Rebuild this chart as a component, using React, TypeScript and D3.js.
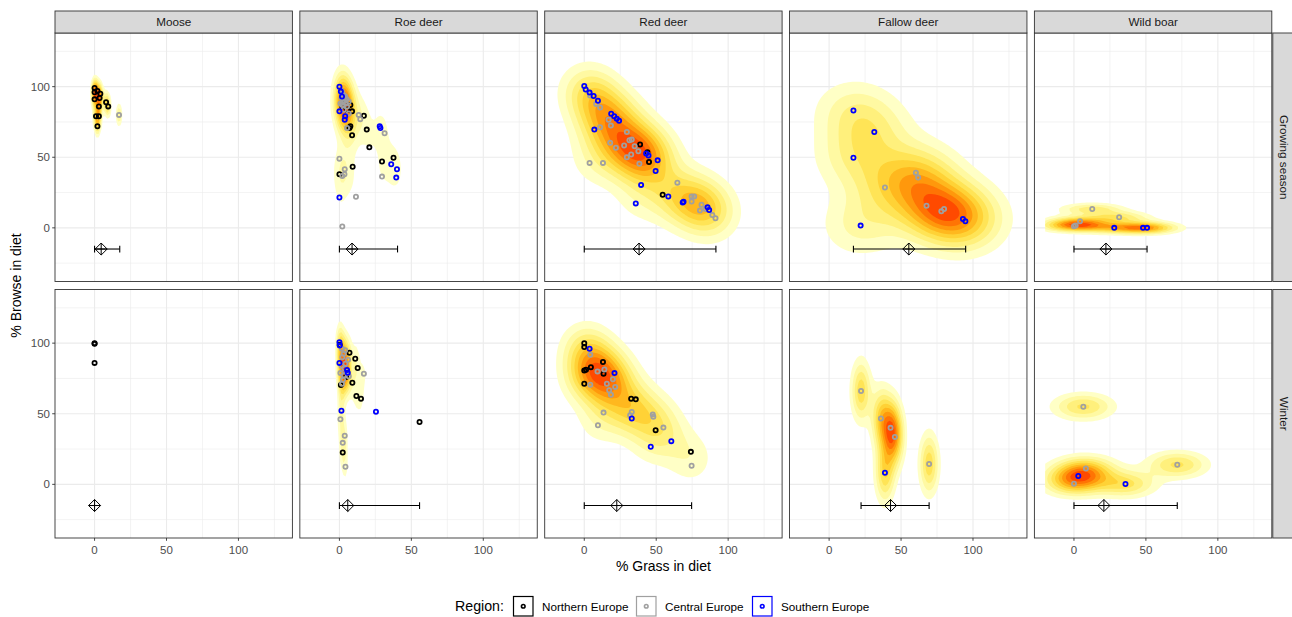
import React, { useEffect, useRef } from 'react';
import * as d3 from 'd3';

const species = ['Moose', 'Roe deer', 'Red deer', 'Fallow deer', 'Wild boar'];
const seasons = ['Growing season', 'Winter'];
const regions = ['Northern Europe', 'Central Europe', 'Southern Europe'];
const regionColors = ['#000000', '#A0A0A0', '#0000FF'];

const xTicks = [0, 50, 100];
const yTicks = [0, 50, 100];

// [% grass, % browse] per study, by panel and region
const mooseGrowingNorth = [[0, 99], [2, 97], [4, 95], [0, 96], [0, 91], [3.5, 92], [8, 89], [9.5, 86], [3, 86], [1, 79], [3, 79], [2, 72]];
const mooseGrowingCentral = [[17, 80]];
const mooseGrowingSouth: number[][] = [];

const roeGrowingNorth = [[2, 86], [7.6, 87], [8.8, 82.5], [5.3, 83.6], [17, 79.4], [7.6, 72], [7, 70.7], [19, 69.6], [8.8, 65.6], [20.8, 57], [37.6, 49.6], [29.6, 47], [9.2, 43.3], [0, 38], [4, 88]];
const roeGrowingCentral = [[2, 95], [4, 93], [3, 90.6], [6.5, 89.5], [0.7, 88], [5.3, 86], [3, 83.6], [6.5, 81], [5.3, 70.7], [13.4, 80], [14.5, 77], [31.4, 67], [0, 49], [3.7, 41.5], [2, 36.8], [3.5, 38], [11.5, 22], [2, 1], [29.6, 36.3], [4.5, 88], [1.5, 92], [2.5, 89], [3, 94], [5, 91], [2, 87], [1.5, 97]];
const roeGrowingSouth = [[0, 100], [1, 96.5], [1.8, 93], [0, 82.5], [4, 79], [3.7, 76.6], [28, 72], [28.5, 70.7], [36, 45], [40, 41.5], [39.5, 35.6], [0, 21.5]];

const redGrowingNorth = [[38.8, 59], [43.9, 53.6], [45, 46.6], [54.5, 23.4]];
const redGrowingCentral = [[4, 93.7], [8.3, 87.8], [11, 85.2], [16.9, 76.6], [18.5, 72.4], [11, 71.2], [29.6, 67.9], [3.7, 46], [13, 46], [18, 60.2], [22, 56.7], [27.7, 58.3], [31.4, 62], [33, 62.5], [35, 57.8], [37.6, 54.3], [29.6, 50], [32.6, 52], [38.3, 45.4], [44.6, 51.5], [64.7, 32], [74.6, 22.2], [76.4, 22.2], [74.6, 18.7], [81.5, 16.4], [80.4, 12.2], [84.3, 13.3], [89, 9.1], [91.2, 6.8]];
const redGrowingSouth = [[0, 100.5], [1, 98], [3.7, 95.8], [6.5, 93.4], [9.5, 90], [18.7, 80.8], [20.8, 79], [22.6, 77.3], [24.2, 75.9], [7, 69.6], [43, 52.7], [44.6, 51.3], [51, 47.8], [49.6, 40.3], [39.5, 30.4], [35.8, 17.3], [58.4, 22.2], [68.4, 18], [69, 18.5], [85.7, 14.5], [86.8, 12.6]];

const fallowGrowingNorth: number[][] = [];
const fallowGrowingCentral = [[38.8, 28.6], [60.3, 39.1], [61.9, 35.6], [67.7, 15.7], [78, 11.7], [79.9, 13.3]];
const fallowGrowingSouth = [[16.9, 83.1], [31.4, 67.9], [16.9, 49.6], [21.9, 1.6], [93, 6.3], [94.7, 4.7]];

const boarGrowingNorth: number[][] = [];
const boarGrowingCentral = [[0, 1.2], [1.2, 1.6], [4.2, 4.7], [12.7, 13.3], [31.4, 7.5]];
const boarGrowingSouth = [[28, 0], [48, 0], [50.8, 0]];

const mooseWinterNorth = [[0, 100], [0, 99.5], [0, 86]];
const mooseWinterCentral: number[][] = [];
const mooseWinterSouth: number[][] = [];

const roeWinterNorth = [[0.2, 98.8], [7, 93.2], [11, 89], [12.7, 82.4], [4.6, 76], [9, 72], [1, 70.4], [11.8, 62.6], [15, 60.7], [55.7, 44.2], [2.3, 22.6]];
const roeWinterCentral = [[1.8, 96], [3, 92.5], [6, 88.2], [4.2, 85.4], [17, 78.4], [0.7, 78.8], [3, 77.2], [6.5, 76.5], [1.8, 71.3], [0.7, 46.1], [3.7, 34.4], [2.3, 29.4], [4.2, 12.5], [2, 90], [3.5, 82], [1.5, 84], [5, 80], [2.5, 74], [4, 95]];
const roeWinterSouth = [[0, 100.7], [0.2, 98.4], [0, 86], [5.3, 81], [5.8, 79], [1.4, 52.2], [25.4, 51.5]];

const redWinterNorth = [[0, 100], [0, 97.2], [13, 86.6], [4.6, 83], [1.2, 81.2], [0, 80.7], [13.4, 78.4], [0, 71.3], [32.6, 60.7], [35.8, 60.2], [49.6, 38.4], [74.1, 23]];
const redWinterCentral = [[4.2, 91.8], [9.2, 80], [14, 81.4], [19.9, 74.4], [15.7, 71.3], [21.5, 69], [17.3, 66.6], [18.5, 63.5], [4.2, 70.6], [13.4, 50.8], [9.5, 41.9], [31.9, 48.9], [33, 51.3], [47.6, 49.4], [48, 47.8], [55, 40.2], [74.6, 13.2]];
const redWinterSouth = [[3.7, 96], [21, 78.8], [33, 46.6], [46.2, 26.6], [60.5, 30.6]];

const fallowWinterNorth: number[][] = [];
const fallowWinterCentral = [[22.2, 66.1], [36, 46.6], [42.7, 40], [45.7, 33.6], [69.5, 14.4]];
const fallowWinterSouth = [[38.8, 8.2]];

const boarWinterNorth: number[][] = [];
const boarWinterCentral = [[6.5, 55], [8.3, 11.3], [0, 0.5], [71.8, 13.9]];
const boarWinterSouth = [[3, 5.9], [35.8, 0.2]];

// mean and range of % grass, shown below the points
const grassMeanGrowing = [4.6, 8.8, 38.1, 55.4, 22.2];
const grassMinGrowing = [0, 0, 0, 16.9, 0];
const grassMaxGrowing = [17.5, 40.4, 91.5, 94.9, 50.8];
const grassMeanWinter = [0, 5.8, 22.6, 42.7, 20.8];
const grassMinWinter = [0, 0, 0, 22.2, 0];
const grassMaxWinter = [0, 55.7, 74.6, 69.5, 71.8];
const summaryY = -15;

// filled density bands for ndensity 0.1 .. 1
const densityBreaks = [0.1, 0.2, 0.3, 0.4, 0.5, 0.6, 0.7, 0.8, 0.9];
const densityColors = ['#FFFFC6', '#FFF9A2', '#FFF07C', '#FFE456', '#FFD236', '#FFB81E', '#FF980C', '#FF7404', '#FF4A00'];

const pointsTable = [
  [
    [mooseGrowingNorth, mooseGrowingCentral, mooseGrowingSouth],
    [roeGrowingNorth, roeGrowingCentral, roeGrowingSouth],
    [redGrowingNorth, redGrowingCentral, redGrowingSouth],
    [fallowGrowingNorth, fallowGrowingCentral, fallowGrowingSouth],
    [boarGrowingNorth, boarGrowingCentral, boarGrowingSouth],
  ],
  [
    [mooseWinterNorth, mooseWinterCentral, mooseWinterSouth],
    [roeWinterNorth, roeWinterCentral, roeWinterSouth],
    [redWinterNorth, redWinterCentral, redWinterSouth],
    [fallowWinterNorth, fallowWinterCentral, fallowWinterSouth],
    [boarWinterNorth, boarWinterCentral, boarWinterSouth],
  ],
];
const summaryTable = [
  [grassMeanGrowing, grassMinGrowing, grassMaxGrowing],
  [grassMeanWinter, grassMinWinter, grassMaxWinter],
];

const W = 1292;
const H = 617;
const FONT = '"Liberation Sans", Arial, Helvetica, sans-serif';

// MASS::bandwidth.nrd
const bandwidthNrd = (v: number[]) => {
  const s = [...v].sort((a, b) => a - b);
  const iqr = (d3.quantile(s, 0.75)! - d3.quantile(s, 0.25)!) / 1.34;
  return 4 * 1.06 * Math.min(d3.deviation(s) || 0, iqr) * Math.pow(s.length, -0.2);
};

// kde2d over the fixed limits, scaled to max 1
const GRID = 100;
const LIMX = [-20, 130];
const LIMY = [-30, 130];
const density = (pts: number[][]) => {
  if (pts.length < 2) return null;
  const hx = bandwidthNrd(pts.map(p => p[0])) / 4;
  const hy = bandwidthNrd(pts.map(p => p[1])) / 4;
  if (!(hx > 0) || !(hy > 0)) return null;
  const vals = new Array(GRID * GRID).fill(0);
  for (let j = 0; j < GRID; j++) {
    const gy = LIMY[0] + (j * (LIMY[1] - LIMY[0])) / (GRID - 1);
    for (let i = 0; i < GRID; i++) {
      const gx = LIMX[0] + (i * (LIMX[1] - LIMX[0])) / (GRID - 1);
      let z = 0;
      pts.forEach(p => {
        const a = (gx - p[0]) / hx;
        const b = (gy - p[1]) / hy;
        z += Math.exp(-0.5 * (a * a + b * b));
      });
      vals[j * GRID + i] = z;
    }
  }
  const mx = d3.max(vals)!;
  return vals.map(v => v / mx);
};

const App = () => {
  const svgRef = useRef<SVGSVGElement>(null);

  useEffect(() => {
    document.body.style.margin = '0';
    const svg = d3.select(svgRef.current);
    svg.selectAll('*').remove();

    const left0 = 55;
    const panelW = 237.4;
    const gapX = 7.45;
    const rowTops = [33, 289.5];
    const panelH = 248.5;

    const defs = svg.append('defs');

    seasons.forEach((season, r) => {
      species.forEach((sp, c) => {
        const x0 = left0 + c * (panelW + gapX);
        const y0 = rowTops[r];
        const x = d3.scaleLinear().domain([-27.5, 137.5]).range([x0, x0 + panelW]);
        const y = d3.scaleLinear().domain([-38, 138]).range([y0 + panelH, y0]);
        const g = svg.append('g');
        const clipId = `clip-${r}-${c}`;
        defs.append('clipPath').attr('id', clipId)
          .append('rect').attr('x', x0).attr('y', y0).attr('width', panelW).attr('height', panelH);

        g.append('rect').attr('x', x0).attr('y', y0).attr('width', panelW).attr('height', panelH).attr('fill', '#fff');

        // grid
        [-25, 25, 75, 125].forEach(v => {
          g.append('line').attr('x1', x0).attr('x2', x0 + panelW).attr('y1', y(v)).attr('y2', y(v))
            .attr('stroke', '#EBEBEB').attr('stroke-width', 0.6);
        });
        [25, 75, 125].forEach(v => {
          g.append('line').attr('y1', y0).attr('y2', y0 + panelH).attr('x1', x(v)).attr('x2', x(v))
            .attr('stroke', '#EBEBEB').attr('stroke-width', 0.6);
        });
        yTicks.forEach(v => {
          g.append('line').attr('x1', x0).attr('x2', x0 + panelW).attr('y1', y(v)).attr('y2', y(v))
            .attr('stroke', '#EBEBEB').attr('stroke-width', 1.1);
        });
        xTicks.forEach(v => {
          g.append('line').attr('y1', y0).attr('y2', y0 + panelH).attr('x1', x(v)).attr('x2', x(v))
            .attr('stroke', '#EBEBEB').attr('stroke-width', 1.1);
        });

        // density
        const all = pointsTable[r][c].flat();
        const vals = density(all);
        if (vals) {
          const toX = (cx: number) => LIMX[0] + (Math.max(0, Math.min(GRID - 1, cx - 0.5)) * (LIMX[1] - LIMX[0])) / (GRID - 1);
          const toY = (cy: number) => LIMY[0] + (Math.max(0, Math.min(GRID - 1, cy - 0.5)) * (LIMY[1] - LIMY[0])) / (GRID - 1);
          const proj = d3.geoTransform({
            point(px: number, py: number) {
              (this as any).stream.point(x(toX(px)), y(toY(py)));
            },
          });
          const path = d3.geoPath(proj);
          const contours = d3.contours().size([GRID, GRID]).thresholds(densityBreaks)(vals);
          g.append('g').attr('clip-path', `url(#${clipId})`)
            .selectAll('path').data(contours).enter().append('path')
            .attr('d', d => path(d as any) || '')
            .attr('fill', (_, i) => densityColors[i]);
        }

        // summary: range bar and mean diamond
        const [means, mins, maxs] = summaryTable[r];
        const sy = y(summaryY);
        const sg = g.append('g').attr('stroke', '#000').attr('stroke-width', 1.1).attr('fill', 'none');
        if (maxs[c] > mins[c]) {
          sg.append('line').attr('x1', x(mins[c])).attr('x2', x(maxs[c])).attr('y1', sy).attr('y2', sy);
          [mins[c], maxs[c]].forEach(v => {
            sg.append('line').attr('x1', x(v)).attr('x2', x(v)).attr('y1', sy - 3.4).attr('y2', sy + 3.4);
          });
        }
        sg.append('path')
          .attr('transform', `translate(${x(means[c])},${sy})`)
          .attr('d', 'M0,-6L6,0L0,6L-6,0Z M0,-6L0,6 M-6,0L6,0')
          .attr('stroke-width', 1);

        // points
        pointsTable[r][c].forEach((pts, k) => {
          g.append('g').selectAll('circle').data(pts).enter().append('circle')
            .attr('cx', d => x(d[0])).attr('cy', d => y(d[1])).attr('r', 2.1)
            .attr('fill', 'none').attr('stroke', regionColors[k]).attr('stroke-width', 1.8);
        });

        g.append('rect').attr('x', x0).attr('y', y0).attr('width', panelW).attr('height', panelH)
          .attr('fill', 'none').attr('stroke', '#333333').attr('stroke-width', 0.9);

        // top strips
        if (r === 0) {
          g.append('rect').attr('x', x0).attr('y', 11).attr('width', panelW).attr('height', y0 - 11)
            .attr('fill', '#D9D9D9').attr('stroke', '#333333').attr('stroke-width', 0.9);
          g.append('text').attr('x', x0 + panelW / 2).attr('y', 22).attr('dy', '0.35em')
            .attr('text-anchor', 'middle').attr('font-family', FONT).attr('font-size', 11.7)
            .attr('fill', '#1A1A1A').text(sp);
        }
        // right strips
        if (c === species.length - 1) {
          const sx = x0 + panelW + 1;
          g.append('rect').attr('x', sx).attr('y', y0).attr('width', 22).attr('height', panelH)
            .attr('fill', '#D9D9D9').attr('stroke', '#333333').attr('stroke-width', 0.9);
          g.append('text').attr('transform', `translate(${sx + 11},${y0 + panelH / 2}) rotate(90)`)
            .attr('dy', '0.35em').attr('text-anchor', 'middle').attr('font-family', FONT)
            .attr('font-size', 11.7).attr('fill', '#1A1A1A').text(season);
        }
        // y axis
        if (c === 0) {
          yTicks.forEach(v => {
            g.append('line').attr('x1', x0 - 2.8).attr('x2', x0).attr('y1', y(v)).attr('y2', y(v))
              .attr('stroke', '#333333').attr('stroke-width', 0.9);
            g.append('text').attr('x', x0 - 5).attr('y', y(v)).attr('dy', '0.35em')
              .attr('text-anchor', 'end').attr('font-family', FONT).attr('font-size', 11.5)
              .attr('fill', '#4D4D4D').text(v);
          });
        }
        // x axis
        if (r === seasons.length - 1) {
          xTicks.forEach(v => {
            g.append('line').attr('x1', x(v)).attr('x2', x(v)).attr('y1', y0 + panelH).attr('y2', y0 + panelH + 2.8)
              .attr('stroke', '#333333').attr('stroke-width', 0.9);
            g.append('text').attr('x', x(v)).attr('y', y0 + panelH + 12).attr('dy', '0.35em')
              .attr('text-anchor', 'middle').attr('font-family', FONT).attr('font-size', 11.5)
              .attr('fill', '#4D4D4D').text(v);
          });
        }
      });
    });

    const panelsRight = left0 + 5 * panelW + 4 * gapX;
    svg.append('text').attr('x', (left0 + panelsRight) / 2).attr('y', 566).attr('dy', '0.35em')
      .attr('text-anchor', 'middle').attr('font-family', FONT).attr('font-size', 14).attr('fill', '#000')
      .text('% Grass in diet');
    svg.append('text').attr('transform', `translate(16,${(33 + 538) / 2}) rotate(-90)`).attr('dy', '0.35em')
      .attr('text-anchor', 'middle').attr('font-family', FONT).attr('font-size', 14).attr('fill', '#000')
      .text('% Browse in diet');

    // legend
    const lg = svg.append('g');
    const ly = 606.5;
    lg.append('text').attr('x', 455).attr('y', ly).attr('dy', '0.35em').attr('font-family', FONT)
      .attr('font-size', 14.2).attr('fill', '#000').text('Region:');
    const keyX = [513.5, 636.5, 752.5];
    regions.forEach((reg, k) => {
      lg.append('rect').attr('x', keyX[k]).attr('y', 596.5).attr('width', 19.5).attr('height', 19.5)
        .attr('fill', '#fff').attr('stroke', regionColors[k]).attr('stroke-width', 1.2);
      lg.append('circle').attr('cx', keyX[k] + 9.75).attr('cy', 606.25).attr('r', 1.8)
        .attr('fill', 'none').attr('stroke', regionColors[k]).attr('stroke-width', 1.6);
      lg.append('text').attr('x', keyX[k] + 28.5).attr('y', ly).attr('dy', '0.35em').attr('font-family', FONT)
        .attr('font-size', 11.7).attr('fill', '#000').text(reg);
    });
  }, []);

  return <svg ref={svgRef} width={W} height={H} style={{ display: 'block', background: '#fff' }}></svg>;
};

export default App;
